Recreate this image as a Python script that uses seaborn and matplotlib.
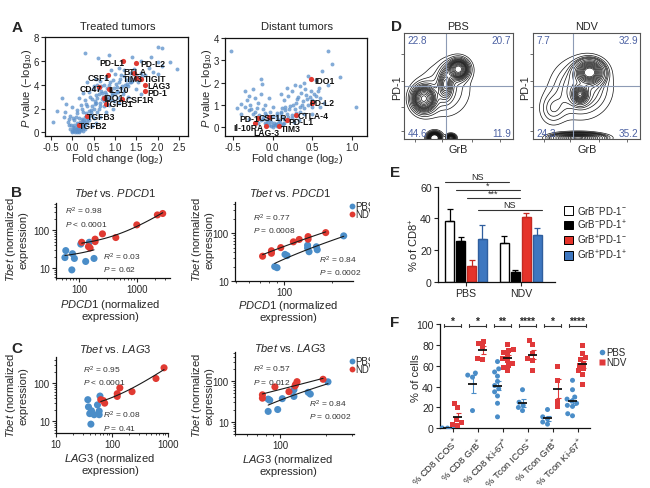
import numpy as np
import pandas as pd
import seaborn as sns
import matplotlib
matplotlib.use("Agg")
import matplotlib.pyplot as plt
from matplotlib.ticker import FixedLocator, NullFormatter, LogLocator
from matplotlib.transforms import Bbox
from matplotlib.lines import Line2D
from matplotlib.patches import Patch
from matplotlib.container import BarContainer

# ======================= DATA =======================
# Panel A - volcano, treated tumors
treated_fc = [0.00, 0.05, 0.10, 0.15, 0.08, 0.12, 0.20, 0.25, -0.05, 0.02,
              0.18, 0.30, 0.28, 0.35, 0.22, 0.10, 0.05, -0.10, -0.20, -0.05,
              0.15, 0.30, 0.40, 0.45, 0.38, 0.25, 0.12, 0.00, -0.15, -0.25,
              -0.35, -0.45, 0.20, 0.35, 0.50, 0.55, 0.45, 0.30, 0.15, 0.25,
              0.40, 0.55, 0.65, 0.70, 0.60, 0.50, 0.35, 0.70, 0.80, 0.85,
              0.90, 0.75, 0.65, 0.55, 0.80, 1.00, 1.05, 1.10, 0.95, 1.00,
              0.90, 1.15, 1.20, 1.30, 1.25, 1.35, 1.10, 1.20, 1.40, 1.50,
              1.45, 1.60, 1.55, 1.70, 1.80, 1.90, 2.00, 2.10, 2.00, 1.85,
              2.30, 2.45, 2.00, 2.10, 0.30, 0.85, 0.60, 1.60, 1.40, 0.95,
              1.10, 1.30, 1.50, 1.60, 0.80, 0.65, 0.55, 0.45, 0.00, 0.05,
              0.15, 0.20, 0.10, 0.25, -0.02, 0.30, 0.18, 0.08, 0.22, 0.32,
              0.40, 0.50, 0.58, 0.62, 0.75, 0.85, 0.90, 0.05, 0.12, -0.08,
              0.02, 0.07, 0.13, 0.17, 0.23, 0.27, 0.33, 0.37, 0.43, 0.47,
              0.52, 0.57, 0.63, 0.67, 0.72, 0.77, 0.82, 0.87, 0.92, 0.97,
              1.02, 1.07, 1.12, 1.17, 1.22, 1.27, 1.32, 1.37, 1.42, 0.42,
              0.32, 0.22, 0.12, 0.02, -0.08, -0.18, 0.48, 0.58, 0.68, 0.78,
              0.88, 0.98, 1.08, 1.18, 0.14, 0.24, 0.34, 0.44, 0.54, 0.64,
              0.74, 0.84, 0.94, 1.04, 1.14, 1.24, 1.34, 1.44, 1.54, 1.64]
treated_p = [0.05, 0.10, 0.05, 0.15, 0.25, 0.30, 0.20, 0.40, 0.30, 0.45,
             0.50, 0.60, 0.90, 0.80, 0.75, 0.80, 1.00, 0.90, 1.30, 1.40,
             1.20, 1.30, 1.00, 1.50, 1.80, 1.70, 1.90, 2.10, 2.40, 2.90,
             1.80, 0.90, 2.30, 2.20, 2.00, 2.50, 2.80, 2.70, 2.90, 3.30,
             3.40, 3.10, 2.20, 2.80, 3.60, 3.90, 4.20, 3.30, 2.50, 3.00,
             3.50, 4.00, 4.30, 4.50, 4.60, 3.20, 3.80, 4.20, 4.40, 4.90,
             5.20, 4.80, 3.50, 3.90, 4.40, 5.00, 5.40, 5.20, 4.30, 4.80,
             5.30, 5.00, 4.20, 4.80, 5.40, 5.10, 5.90, 5.60, 4.90, 6.30,
             5.90, 5.30, 7.20, 7.10, 6.70, 6.50, 6.20, 6.00, 6.30, 2.00,
             2.50, 3.00, 3.60, 3.20, 1.70, 1.30, 0.80, 0.50, 0.15, 0.35,
             0.05, 0.35, 0.50, 0.15, 0.60, 0.30, 0.90, 1.30, 1.10, 1.60,
             1.40, 1.20, 1.70, 2.00, 2.20, 2.30, 2.70, 0.60, 0.15, 0.60,
             0.20, 0.05, 0.40, 0.25, 0.55, 0.70, 1.05, 1.25, 1.75, 2.20,
             2.60, 2.90, 3.20, 3.50, 3.00, 3.40, 3.70, 4.00, 3.10, 3.70,
             4.10, 3.40, 4.50, 3.90, 4.70, 4.10, 4.60, 4.20, 4.90, 3.00,
             2.40, 2.00, 1.60, 1.20, 1.10, 1.70, 3.60, 4.00, 3.90, 3.20,
             4.20, 2.60, 2.90, 3.20, 0.70, 1.00, 1.45, 1.90, 2.35, 2.50,
             2.60, 2.80, 3.30, 3.50, 3.70, 4.00, 4.25, 4.50, 4.60, 4.70]
treated_genes = ["PD-L1", "PD-L2", "BTLA", "TIM3", "TIGIT", "LAG3", "PD-1", "CSF1",
                 "CD47", "IL-10", "IDO1", "CSF1R", "TGFB1", "TGFB3", "TGFB2"]
treated_gene_fc = [1.19, 1.49, 1.45, 1.50, 1.62, 1.70, 1.70, 0.84, 0.62, 0.85, 0.75, 1.17, 0.80, 0.35, 0.15]
treated_gene_p = [6.0, 5.8, 5.0, 4.55, 4.5, 4.0, 3.5, 4.8, 3.8, 3.6, 2.9, 2.8, 2.4, 1.35, 0.6]

# Panel A - volcano, distant tumors
distant_fc = [0.00, 0.05, -0.05, 0.10, 0.02, -0.10, 0.15, 0.08, -0.03, 0.20,
              -0.15, 0.12, 0.25, -0.20, 0.30, 0.18, -0.08, 0.05, -0.25, 0.35,
              0.28, 0.40, 0.22, 0.12, -0.30, -0.35, -0.20, -0.12, 0.45, 0.38,
              0.50, 0.30, 0.15, 0.20, 0.25, 0.32, 0.42, 0.55, 0.48, 0.60,
              0.58, 0.35, 0.28, 0.40, 0.18, 0.10, -0.40, -0.45, -0.28, -0.18,
              -0.10, -0.22, -0.30, -0.15, -0.25, -0.15, -0.13, -0.35, -0.05, 0.00,
              0.62, 0.70, 0.75, 0.85, 1.05, -0.52, 0.50, 0.60, 0.65, 0.70,
              0.55, 0.45, -0.08, 0.00, 0.06, -0.12, 0.10, 0.16, 0.40, 0.33,
              -0.30, -0.40, 0.50, 0.03, -0.02, 0.07, -0.06, 0.13, 0.27, -0.18,
              0.01, 0.04, -0.02, 0.09, -0.07, 0.14, -0.12, 0.19, -0.17, 0.24,
              -0.22, 0.29, 0.34, 0.37, 0.43, -0.27, -0.32, 0.47, 0.52, 0.57,
              0.06, 0.11, 0.16, 0.21, 0.26, -0.03, -0.09, 0.31, 0.36, 0.41]
distant_p = [0.00, 0.05, 0.10, 0.10, 0.20, 0.20, 0.20, 0.30, 0.35, 0.30,
             0.30, 0.45, 0.40, 0.45, 0.50, 0.60, 0.55, 0.65, 0.60, 0.70,
             0.80, 0.85, 0.95, 0.85, 0.75, 0.90, 0.85, 0.80, 1.00, 1.15,
             1.20, 1.10, 1.20, 1.40, 1.60, 1.35, 1.45, 1.40, 1.60, 1.30,
             1.75, 1.85, 1.90, 2.00, 1.75, 1.50, 1.05, 0.85, 1.00, 1.10,
             1.00, 1.30, 1.40, 1.50, 1.70, 2.15, 1.95, 1.60, 1.30, 0.90,
             2.50, 3.40, 2.85, 2.25, 0.90, 3.40, 0.60, 0.90, 1.10, 1.90,
             2.10, 2.30, 0.15, 0.50, 0.40, 0.45, 0.70, 0.90, 0.60, 0.30,
             0.35, 0.60, 0.90, 0.10, 0.05, 0.20, 0.25, 0.15, 0.25, 0.20,
             0.08, 0.15, 0.25, 0.22, 0.30, 0.35, 0.38, 0.45, 0.55, 0.55,
             0.70, 0.65, 0.90, 1.00, 1.25, 0.80, 1.20, 1.35, 1.50, 1.60,
             0.55, 0.65, 0.75, 0.80, 1.00, 0.70, 0.65, 1.25, 1.55, 1.70]
distant_genes = ["IDO1", "PD-L2", "CTLA-4", "PD-L1", "TIM3", "CSF1R", "PD-1", "Il-10RA", "LAG-3"]
distant_gene_fc = [0.48, 0.50, 0.30, 0.18, 0.08, -0.05, -0.18, -0.22, -0.08]
distant_gene_p = [2.15, 1.10, 0.55, 0.30, 0.05, 0.45, 0.40, 0.20, 0.05]

# Panel B - Tbet vs PDCD1
b_treated_pdcd1_pbs = [150, 107, 59, 77, 57, 83, 181, 130, 75]
b_treated_tbet_pbs = [48, 43, 29, 24, 19, 18, 18, 15, 9]
b_treated_pdcd1_ndv = [2240, 2770, 990, 430, 253, 189, 189, 145, 155, 111]
b_treated_tbet_ndv = [252, 275, 138, 64, 80, 58, 50, 37, 34, 48]
b_distant_pdcd1_pbs = [87, 90, 101, 104, 140, 140, 143, 159, 161, 236]
b_distant_tbet_pbs = [20, 19, 36, 34, 56, 49, 41, 52, 45, 88]
b_distant_pdcd1_ndv = [73, 83, 83, 95, 114, 124, 141, 141, 182]
b_distant_tbet_ndv = [33, 43, 38, 50, 66, 74, 85, 75, 103]

# Panel C - Tbet vs LAG3
c_treated_lag3_pbs = [61, 37, 55, 38, 43, 40, 48, 59, 59, 42]
c_treated_tbet_pbs = [46, 37, 27, 24, 19, 16, 15, 18.6, 15, 8.5]
c_treated_lag3_ndv = [850, 610, 228, 138, 124, 124, 70, 74, 63]
c_treated_tbet_ndv = [251, 132, 60, 75, 53, 45, 35, 30, 37]
c_distant_lag3_pbs = [83, 85, 83, 96, 103, 123, 123, 153, 158, 207]
c_distant_tbet_pbs = [36, 34, 18, 20, 37, 61, 42, 53, 48, 96]
c_distant_lag3_ndv = [76, 76, 92, 114, 125, 129, 126, 192]
c_distant_tbet_ndv = [46, 38, 72, 55, 76, 97, 82, 111]

# Panel D - flow cytometry density components (GrB, PD-1 in gate-scaled units)
pbs_comp_x = [0.18, 0.50, 0.38, 0.28, 0.43, 0.38]
pbs_comp_y = [0.38, 0.66, 0.52, 0.01, 0.01, 0.47]
pbs_comp_sx = [0.065, 0.055, 0.04, 0.035, 0.025, 0.15]
pbs_comp_sy = [0.075, 0.055, 0.09, 0.03, 0.02, 0.17]
pbs_comp_w = [0.30, 0.20, 0.10, 0.10, 0.03, 0.27]
ndv_comp_x = [0.53, 0.44, 0.42, 0.45, 0.18]
ndv_comp_y = [0.63, 0.42, 0.01, 0.48, 0.28]
ndv_comp_sx = [0.07, 0.04, 0.13, 0.17, 0.08]
ndv_comp_sy = [0.06, 0.045, 0.025, 0.17, 0.10]
ndv_comp_w = [0.30, 0.10, 0.20, 0.35, 0.05]
pbs_quadrants = ["22.8", "20.7", "44.6", "11.9"]
ndv_quadrants = ["7.7", "32.9", "24.3", "35.2"]

# Panel E
e_groups = ["PBS", "NDV"]
e_pops = [r"GrB$^{-}$PD-1$^{-}$", r"GrB$^{-}$PD-1$^{+}$", r"GrB$^{+}$PD-1$^{-}$", r"GrB$^{+}$PD-1$^{+}$"]
e_pbs = [38.1, 25.5, 10.1, 27.0]
e_ndv = [24.2, 5.9, 40.7, 29.5]
e_pbs_err = [7.6, 2.5, 3.6, 9.0]
e_ndv_err = [4.8, 1.7, 2.7, 4.2]
e_sig_labels = ["NS", "*", "***", "NS"]
e_sig_heights = [63.2, 57.7, 52.7, 45.3]

# Panel F
f_cats = [r"% CD8 ICOS$^{+}$", r"% CD8 GrB$^{+}$", r"% CD8 Ki-67$^{+}$",
          r"% Tcon ICOS$^{+}$", r"% Tcon GrB$^{+}$", r"% Tcon Ki-67$^{+}$"]
f_pbs = [[0.5, 0.3, 0.8, 0.2],
         [53, 51, 49, 17],
         [64, 57, 54, 50, 45, 41, 38, 35, 31, 24, 11],
         [37, 25, 22, 20, 17],
         [18, 11, 9, 6, 4],
         [46, 37, 30, 28, 26, 24, 22, 21, 14, 12]]
f_ndv = [[24, 20, 8, 6, 4, 3],
         [83, 81, 78, 67, 66],
         [80, 76, 75, 73, 70, 67, 65, 62, 60, 58, 55],
         [84, 80, 72, 67, 65, 55],
         [59, 46, 26, 21],
         [79, 72, 68, 66, 62, 60, 57, 55, 52, 42]]
f_stars = ["*", "*", "**", "****", "*", "****"]

# ======================= STYLE =======================
sns.set_style("ticks")
plt.rcParams["font.family"] = ["Liberation Sans", "DejaVu Sans"]
plt.rcParams["mathtext.fontset"] = "custom"
plt.rcParams["mathtext.rm"] = "Liberation Sans"
plt.rcParams["mathtext.it"] = "Liberation Sans:italic"
plt.rcParams["mathtext.bf"] = "Liberation Sans:bold"
plt.rcParams["axes.linewidth"] = 0.9
plt.rcParams["axes.edgecolor"] = "#111111"
plt.rcParams["xtick.major.size"] = 3
plt.rcParams["ytick.major.size"] = 3
plt.rcParams["xtick.minor.size"] = 1.6
plt.rcParams["ytick.minor.size"] = 1.6
plt.rcParams["xtick.major.pad"] = 1.5
plt.rcParams["ytick.major.pad"] = 1.5
plt.rcParams["xtick.labelsize"] = 7
plt.rcParams["ytick.labelsize"] = 7

BLUE = "#4a8dc8"
RED = "#e03a32"
VOLC_BLUE = "#5a8fca"
W, H = 650, 489
fig = plt.figure(figsize=(6.5, 4.89), dpi=100)


def px_axes(x0, y0, x1, y1):
    return fig.add_axes([x0 / W, 1 - y1 / H, (x1 - x0) / W, (y1 - y0) / H])


def ftext(x, y, s, **kw):
    kw.setdefault("ha", "center")
    kw.setdefault("va", "center")
    return fig.text(x / W, 1 - y / H, s, **kw)


# ======================= A =======================
def volcano(box, fc, p, gfc, gp, names, lab_x, lab_y, xlim, ylim, xticks, yticks):
    ax = px_axes(*box)
    sns.scatterplot(x=fc, y=p, color=VOLC_BLUE, s=8, linewidth=0, alpha=0.75, ax=ax)
    sns.scatterplot(x=gfc, y=gp, color=RED, s=14, linewidth=0, ax=ax)
    for n, x, y in zip(names, lab_x, lab_y):
        ax.text(x, y, n, fontsize=6.2, fontweight="bold", va="center", ha="left", color="#111111")
    ax.set_xlim(*xlim)
    ax.set_ylim(*ylim)
    ax.set_xticks(xticks)
    ax.set_xticklabels([f"{t:.1f}" for t in xticks])
    ax.set_yticks(yticks)
    ax.set_yticklabels([str(t) for t in yticks])
    return ax


volcano((45, 38, 188, 137), treated_fc, treated_p, treated_gene_fc, treated_gene_p, treated_genes,
        [0.64, 1.60, 1.19, 1.19, 1.68, 1.75, 1.77, 0.35, 0.18, 0.85, 0.73, 1.24, 0.77, 0.33, 0.15],
        [5.9, 5.8, 5.1, 4.5, 4.5, 3.9, 3.35, 4.6, 3.7, 3.6, 2.9, 2.75, 2.4, 1.35, 0.55],
        (-0.64, 2.71), (-0.3, 8), [-0.5, 0.0, 0.5, 1.0, 1.5, 2.0, 2.5], [0, 2, 4, 6, 8])
volcano((225, 39, 367, 137), distant_fc, distant_p, distant_gene_fc, distant_gene_p, distant_genes,
        [0.53, 0.46, 0.32, 0.20, 0.11, -0.17, -0.42, -0.50, -0.24],
        [2.10, 1.10, 0.50, 0.23, -0.07, 0.45, 0.40, 0.00, -0.25],
        (-0.6, 1.19), (-0.4, 4), [-0.5, 0.0, 0.5, 1.0], [0, 1, 2, 3, 4])
ftext(118, 27, "Treated tumors", fontsize=8)
ftext(297, 27, "Distant tumors", fontsize=8)
for x in (27, 207):
    ftext(x, 88, r"$\it{P}$ value (−log$_{10}$)", fontsize=8, rotation=90)
ftext(117, 159, r"Fold change (log$_2$)", fontsize=8)
ftext(297, 159, r"Fold change (log$_2$)", fontsize=8)


# ======================= B / C =======================
def corr(box, xp, yp, xn, yn, xlim, ylim, xticks, ann_n, ann_p, pos_n, pos_p, fit_pbs):
    df = pd.DataFrame({"x": list(xp) + list(xn), "y": list(yp) + list(yn),
                       "g": ["PBS"] * len(xp) + ["NDV"] * len(xn)})
    ax = px_axes(*box)
    ax.set_xscale("log")
    ax.set_yscale("log")
    sns.scatterplot(data=df, x="x", y="y", hue="g", hue_order=["PBS", "NDV"], palette=[BLUE, RED],
                    s=26, linewidth=0, legend=False, ax=ax, zorder=2)
    sns.regplot(x=np.array(xn, float), y=np.array(yn, float), scatter=False, ci=None, color="#1a1a1a",
                line_kws=dict(lw=0.8, zorder=3), truncate=True, ax=ax)
    if fit_pbs:
        sns.regplot(x=np.array(xp, float), y=np.array(yp, float), scatter=False, ci=None, color="#1a1a1a",
                    line_kws=dict(lw=0.8, zorder=3), truncate=True, ax=ax)
    ax.set_xlim(*xlim)
    ax.set_ylim(*ylim)
    ax.set_xlabel("")
    ax.set_ylabel("")
    ax.xaxis.set_major_locator(FixedLocator(xticks))
    ax.set_xticklabels([str(t) for t in xticks])
    ax.xaxis.set_minor_locator(LogLocator(base=10, subs=np.arange(2, 10)))
    ax.xaxis.set_minor_formatter(NullFormatter())
    ax.yaxis.set_major_locator(FixedLocator([10, 100]))
    ax.set_yticklabels(["10", "100"])
    ax.yaxis.set_minor_locator(LogLocator(base=10, subs=np.arange(2, 10)))
    ax.yaxis.set_minor_formatter(NullFormatter())
    sns.despine(ax=ax)
    ax.text(pos_n[0], pos_n[1], r"$\it{R}^2$ = " + ann_n[0] + "\n" + r"$\it{P}$ " + ann_n[1],
            transform=ax.transAxes, fontsize=6, va="center", ha="left", linespacing=1.35, color="#333333")
    ax.text(pos_p[0], pos_p[1], r"$\it{R}^2$ = " + ann_p[0] + "\n" + r"$\it{P}$ " + ann_p[1],
            transform=ax.transAxes, fontsize=6, va="center", ha="left", linespacing=1.35, color="#333333")
    return ax


corr((56, 204, 170, 279), b_treated_pdcd1_pbs, b_treated_tbet_pbs, b_treated_pdcd1_ndv, b_treated_tbet_ndv,
     (40, 3700), (5.5, 520), [100, 1000], ("0.98", "< 0.0001"), ("0.03", "= 0.62"),
     (0.08, 0.82), (0.415, 0.215), True)
corr((235, 203, 353, 282), b_distant_pdcd1_pbs, b_distant_tbet_pbs, b_distant_pdcd1_ndv, b_distant_tbet_ndv,
     (49, 270), (10, 450), [100], ("0.77", "= 0.0008"), ("0.84", "= 0.0002"),
     (0.155, 0.735), (0.71, 0.205), True)
corr((56, 358, 168, 434), c_treated_lag3_pbs, c_treated_tbet_pbs, c_treated_lag3_ndv, c_treated_tbet_ndv,
     (10, 1000), (5, 480), [10, 100, 1000], ("0.95", "< 0.0001"), ("0.08", "= 0.41"),
     (0.24, 0.765), (0.42, 0.165), False)
corr((235, 353, 354, 435), c_distant_lag3_pbs, c_distant_tbet_pbs, c_distant_lag3_ndv, c_distant_tbet_ndv,
     (50, 308), (5, 520), [100], ("0.57", "= 0.012"), ("0.84", "= 0.0002"),
     (0.154, 0.725), (0.62, 0.31), True)

ftext(115, 193, r"$\it{Tbet}$ vs. $\it{PDCD1}$", fontsize=8)
ftext(290, 193, r"$\it{Tbet}$ vs. $\it{PDCD1}$", fontsize=8)
ftext(115, 349, r"$\it{Tbet}$ vs. $\it{LAG3}$", fontsize=8)
ftext(290, 348, r"$\it{Tbet}$ vs. $\it{LAG3}$", fontsize=8)
for x, y in [(16, 240), (202, 240), (16, 396), (202, 396)]:
    ftext(x, y, r"$\it{Tbet}$ (normalized" + "\nexpression)", fontsize=8, rotation=90, linespacing=1.1)
for x, y, g in [(110, 310, "PDCD1"), (288, 311, "PDCD1"), (110, 464, "LAG3"), (288, 465, "LAG3")]:
    ftext(x, y, r"$\it{" + g + "}$ (normalized" + "\nexpression)", fontsize=8, linespacing=1.1)

clip = Bbox.from_extents(0, 0, 370, H)
for yy in (207, 362):
    for dy, lab, col in [(0, "PBS", BLUE), (8.3, "NDV", RED)]:
        fig.add_artist(Line2D([351.7 / W], [1 - (yy + dy) / H], transform=fig.transFigure, marker="o",
                              ms=4.2, color=col, ls="", mec="none"))
        t = ftext(355, yy + dy, lab, fontsize=7, ha="left")
        t.set_clip_on(True)
        t.set_clip_box(clip)


# ======================= D =======================
def flow(box, cx, cy, sx, sy, w, gate_x, quads):
    ax = px_axes(*box)
    g = np.linspace(0, 1, 260)
    xx, yy = np.meshgrid(g, g)
    Z = np.zeros_like(xx)
    for a, b, s1, s2, m in zip(cx, cy, sx, sy, w):
        Z += m / (2 * np.pi * s1 * s2) * np.exp(-((xx - a) ** 2 / (2 * s1 ** 2) + (yy - b) ** 2 / (2 * s2 ** 2)))
    zs = np.sort(Z.ravel())[::-1]
    cs = np.cumsum(zs) / zs.sum()
    fr = np.linspace(0.08, 0.93, 16)
    levels = np.unique(np.sort([zs[min(np.searchsorted(cs, f), len(zs) - 1)] for f in fr]))
    ax.contour(xx, yy, Z, levels=levels, colors="#111111", linewidths=0.5)
    ax.axvline(gate_x, color="#8d9bb5", lw=0.8)
    ax.axhline(0.5, color="#8d9bb5", lw=0.8)
    qc = "#4d62a3"
    ax.text(0.03, 0.985, quads[0], transform=ax.transAxes, ha="left", va="top", color=qc, fontsize=7.2)
    ax.text(0.98, 0.985, quads[1], transform=ax.transAxes, ha="right", va="top", color=qc, fontsize=7.2)
    ax.text(0.03, 0.005, quads[2], transform=ax.transAxes, ha="left", va="bottom", color=qc, fontsize=7.2)
    ax.text(0.98, 0.005, quads[3], transform=ax.transAxes, ha="right", va="bottom", color=qc, fontsize=7.2)
    ax.set_xlim(0, 1)
    ax.set_ylim(0, 1)
    ax.set_xticks([0.1, 0.35, 0.62, 0.88])
    ax.set_yticks([0.08, 0.3, 0.55, 0.8])
    ax.set_xticklabels([])
    ax.set_yticklabels([])
    ax.tick_params(length=2, width=0.6, color="#555555")
    for s in ax.spines.values():
        s.set_color("#555555")
        s.set_linewidth(0.8)
    return ax


flow((404, 34, 513, 140), pbs_comp_x, pbs_comp_y, pbs_comp_sx, pbs_comp_sy, pbs_comp_w, 0.385, pbs_quadrants)
flow((533, 34, 640, 140), ndv_comp_x, ndv_comp_y, ndv_comp_sx, ndv_comp_sy, ndv_comp_w, 0.37, ndv_quadrants)
ftext(458, 27, "PBS", fontsize=7.8)
ftext(587, 27, "NDV", fontsize=7.8)
ftext(397, 88, "PD-1", fontsize=7.8, rotation=90)
ftext(525, 88, "PD-1", fontsize=7.8, rotation=90)
ftext(458, 150, "GrB", fontsize=7.8)
ftext(587, 150, "GrB", fontsize=7.8)

# ======================= E =======================
e_colors = ["#ffffff", "#000000", "#e5332a", "#3e77c0"]
e_edges = ["#000000", "#000000", "#c42a22", "#2f5e9e"]
df_e = pd.DataFrame({"group": ["PBS"] * 4 + ["NDV"] * 4, "pop": e_pops * 2, "val": e_pbs + e_ndv})
axe = px_axes(438, 187.7, 555, 282.7)
sns.barplot(data=df_e, x="group", y="val", hue="pop", hue_order=e_pops, order=e_groups, palette=e_colors,
            width=0.8, gap=0.12, errorbar=None, legend=False, ax=axe, saturation=1)
errs = [[e_pbs_err[i], e_ndv_err[i]] for i in range(4)]
bar_conts = [c for c in axe.containers if isinstance(c, BarContainer)]
bars = [sorted(list(c), key=lambda b: b.get_x()) for c in bar_conts]
for i, bl in enumerate(bars):
    for j, b in enumerate(bl):
        b.set_edgecolor(e_edges[i])
        b.set_linewidth(1.0)
        axe.errorbar(b.get_x() + b.get_width() / 2, b.get_height(), yerr=[[0], [errs[i][j]]],
                     color=e_edges[i], capsize=2.3, lw=0.9, capthick=0.9, zorder=1)
axe.set_ylim(0, 60)
axe.set_xlim(-0.51, 1.62)
axe.set_yticks([0, 20, 40, 60])
axe.set_xlabel("")
axe.set_ylabel("")
axe.tick_params(axis="both", labelsize=7.6)
sns.despine(ax=axe)
pairs = [((0, 0), (0, 1)), ((1, 0), (1, 1)), ((2, 0), (1, 1)), ((3, 0), (3, 1))]
for (a, b), lab, h in zip(pairs, e_sig_labels, e_sig_heights):
    x0 = bars[a[0]][a[1]].get_x()
    x1 = bars[b[0]][b[1]].get_x() + bars[b[0]][b[1]].get_width()
    axe.plot([x0, x1], [h, h], color="#333333", lw=0.8, clip_on=False)
    axe.text((x0 + x1) / 2, h + 0.6, lab, ha="center", va="bottom", fontsize=6.5, clip_on=False)
ftext(414, 245, r"% of CD8$^{+}$", fontsize=8, rotation=90)
handles = [Patch(facecolor=c, edgecolor="#000000", lw=0.7) for c in e_colors]
fig.legend(handles, e_pops, loc="upper left", bbox_to_anchor=(564 / W, 1 - 205 / H), frameon=False,
           fontsize=7, handlelength=0.95, handleheight=0.95, handletextpad=0.35, labelspacing=0.18,
           borderaxespad=0, borderpad=0)

# ======================= F =======================
rows = []
for c, vals in zip(f_cats, f_pbs):
    rows += [(c, "PBS", v) for v in vals]
for c, vals in zip(f_cats, f_ndv):
    rows += [(c, "NDV", v) for v in vals]
df_f = pd.DataFrame(rows, columns=["cat", "group", "val"])
BLUE_F = "#4a8dc8"
RED_F = "#e0393a"
axf = px_axes(440, 325, 590, 429.3)
for g, mk in [("PBS", "o"), ("NDV", "s")]:
    sns.swarmplot(data=df_f[df_f.group == g], x="cat", y="val", hue="group", hue_order=["PBS", "NDV"],
                  order=f_cats, dodge=True, palette=[BLUE_F, RED_F], marker=mk, size=3.6, linewidth=0,
                  legend=False, ax=axf)
for i in range(len(f_cats)):
    for vals, off, col in [(f_pbs[i], -0.2, BLUE_F), (f_ndv[i], 0.2, RED_F)]:
        v = np.array(vals, float)
        m = v.mean()
        sem = v.std(ddof=1) / np.sqrt(len(v))
        axf.errorbar(i + off, m, yerr=sem, color=col, capsize=1.8, lw=0.8, capthick=0.8, zorder=4)
        axf.hlines(m, i + off - 0.17, i + off + 0.17, color="#111111", lw=1.3, zorder=5)
    axf.plot([i - 0.33, i + 0.33], [98.4, 98.4], color="#333333", lw=0.8, clip_on=False)
    axf.plot([i - 0.33, i - 0.33], [96.8, 100.0], color="#333333", lw=0.8, clip_on=False)
    axf.plot([i + 0.33, i + 0.33], [96.8, 100.0], color="#333333", lw=0.8, clip_on=False)
    axf.text(i, 98.2, f_stars[i], ha="center", va="bottom", fontsize=7.5, fontweight="bold", clip_on=False)
axf.set_xlim(-0.5, 5.5)
axf.set_ylim(0, 100)
axf.set_yticks([0, 20, 40, 60, 80, 100])
axf.set_xticks(range(len(f_cats)))
axf.set_xticklabels(f_cats, rotation=45, ha="right", rotation_mode="anchor", fontsize=6.8)
axf.tick_params(axis="y", labelsize=7.6)
axf.set_xlabel("")
axf.set_ylabel("")
sns.despine(ax=axf)
ftext(416, 378, "% of cells", fontsize=8, rotation=90)
fig.add_artist(Line2D([601.7 / W], [1 - 353.3 / H], transform=fig.transFigure, marker="o", ms=4,
                      color=BLUE_F, ls="", mec="none"))
fig.add_artist(Line2D([601.7 / W], [1 - 363.3 / H], transform=fig.transFigure, marker="s", ms=3.8,
                      color=RED_F, ls="", mec="none"))
ftext(606, 353.3, "PBS", fontsize=7, ha="left")
ftext(606, 363.3, "NDV", fontsize=7, ha="left")

# ======================= panel letters =======================
for lab, x, y in [("A", 17, 28), ("B", 17, 193), ("C", 17, 349), ("D", 397, 27), ("E", 395, 173), ("F", 395, 323)]:
    ftext(x, y, lab, fontsize=11, fontweight="bold")

fig.savefig("out.png", dpi=100)
